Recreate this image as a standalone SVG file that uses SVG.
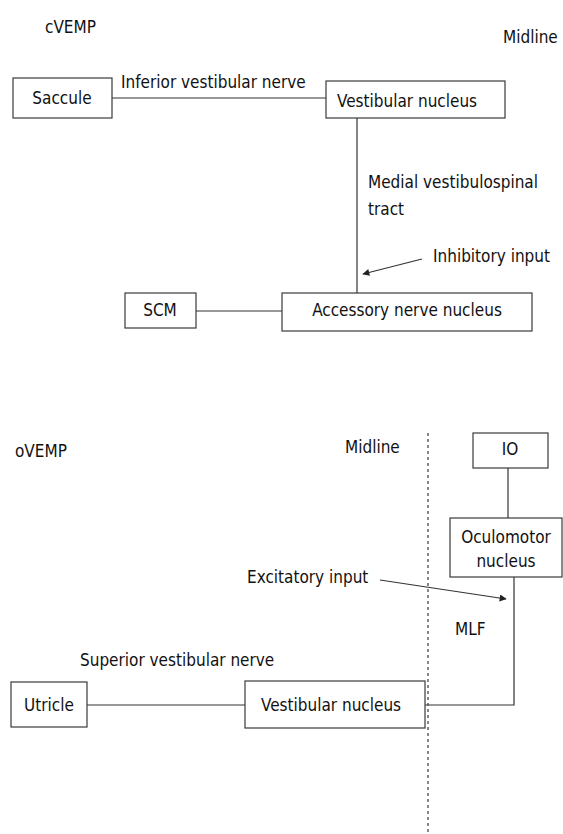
<svg xmlns="http://www.w3.org/2000/svg" width="563" height="834" viewBox="0 0 563 834">
  <style>
    .bg { fill: #ffffff; }
    .box { fill: #ffffff; stroke: #3a3a3a; stroke-width: 1.2; }
    .t { font-family: "DejaVu Sans Condensed", "DejaVu Sans", sans-serif; font-size: 17px; fill: #111111; }
    .c { text-anchor: middle; }
    .ln { fill: none; stroke: #333333; stroke-width: 1.2; }
    .mid { fill: none; stroke: #555555; stroke-width: 1.4; stroke-dasharray: 3 3; }
  </style>
  <defs>
    <marker id="arrow" viewBox="0 0 10 10" refX="9" refY="5" markerWidth="10" markerHeight="7" markerUnits="userSpaceOnUse" orient="auto">
      <path d="M0,0 L10,5 L0,10 z" fill="#222222"/>
    </marker>
  </defs>
  <rect class="bg" x="0" y="0" width="563" height="834"/>

  <!-- cVEMP pathway -->
  <text class="t" x="45" y="33">cVEMP</text>
  <text class="t" x="503" y="43">Midline</text>

  <g id="connectors">
    <path class="ln" d="M112,98 H326"/>
    <path class="ln" d="M357,118 V293"/>
    <path class="ln" d="M196,311 H282"/>
    <path class="ln" d="M422,259 L363,274" marker-end="url(#arrow)"/>
    <path class="ln" d="M508,468 V518"/>
    <path class="ln" d="M514,577 V705 H425"/>
    <path class="ln" d="M87,705 H245"/>
    <path class="ln" d="M380,580 L506,599" marker-end="url(#arrow)"/>
    <path class="mid" d="M428,433 V834"/>
  </g>

  <g id="saccule">
    <rect class="box" x="13" y="78" width="99" height="40"/>
    <text class="t c" x="62" y="104">Saccule</text>
  </g>
  <text class="t" x="121" y="88">Inferior vestibular nerve</text>

  <g id="vestibular-nucleus-c">
    <rect class="box" x="326" y="81" width="179" height="37"/>
    <text class="t" x="337" y="107">Vestibular nucleus</text>
  </g>

  <text class="t" x="368" y="188">Medial vestibulospinal</text>
  <text class="t" x="368" y="215">tract</text>
  <text class="t" x="433" y="262">Inhibitory input</text>

  <g id="scm">
    <rect class="box" x="125" y="293" width="71" height="35"/>
    <text class="t c" x="160" y="316">SCM</text>
  </g>

  <g id="accessory-nerve-nucleus">
    <rect class="box" x="282" y="293" width="250" height="38"/>
    <text class="t c" x="407" y="316">Accessory nerve nucleus</text>
  </g>

  <!-- oVEMP pathway -->
  <text class="t" x="15" y="457">oVEMP</text>
  <text class="t" x="345" y="453">Midline</text>

  <g id="io">
    <rect class="box" x="473" y="433" width="75" height="35"/>
    <text class="t c" x="510" y="455">IO</text>
  </g>

  <g id="oculomotor-nucleus">
    <rect class="box" x="450" y="518" width="112" height="59"/>
    <text class="t c" x="506" y="543">Oculomotor</text>
    <text class="t c" x="506" y="567">nucleus</text>
  </g>

  <text class="t" x="247" y="583">Excitatory input</text>
  <text class="t" x="455" y="635">MLF</text>
  <text class="t" x="80" y="666">Superior vestibular nerve</text>

  <g id="utricle">
    <rect class="box" x="11" y="682" width="76" height="45"/>
    <text class="t c" x="49" y="711">Utricle</text>
  </g>

  <g id="vestibular-nucleus-o">
    <rect class="box" x="245" y="681" width="180" height="47"/>
    <text class="t" x="261" y="711">Vestibular nucleus</text>
  </g>
</svg>
